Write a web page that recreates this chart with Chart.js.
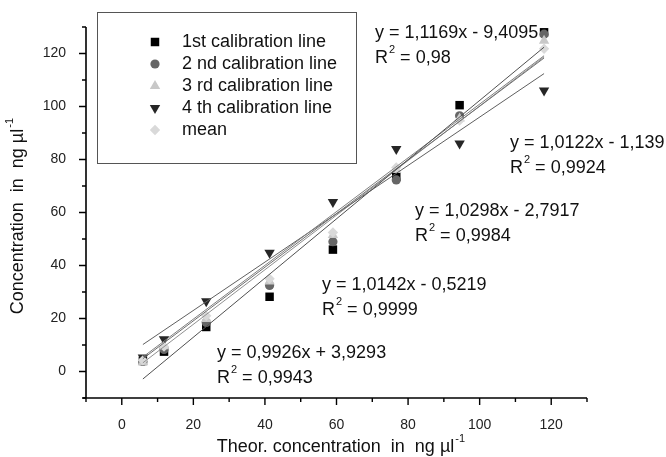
<!DOCTYPE html>
<html>
<head>
<meta charset="utf-8">
<script src="https://cdn.jsdelivr.net/npm/chart.js"></script>
<style>
  html, body { margin: 0; padding: 0; background: #fff; }
</style>
</head>
<body>
<canvas id="chart" width="666" height="457"></canvas>
<script>
// theoretical concentrations (x) and measured values per calibration line
const theorConc = [5.9, 11.8, 23.6, 41.3, 59, 76.7, 94.4, 118];
const cal1 = [4.0, 7.5, 16.8, 28.2, 46.0, 73.5, 100.5, 128.0];
const cal2 = [3.8, 8.3, 18.5, 32.5, 49.0, 72.3, 96.5, 127.3];
const cal3 = [3.5, 9.5, 19.8, 34.0, 51.5, 76.0, 95.5, 124.8];
const cal4 = [5.3, 12.2, 26.5, 44.8, 64.0, 84.0, 86.0, 106.0];
const calMean = [4.2, 9.4, 21.0, 35.0, 52.5, 77.0, 94.7, 121.8];

const seriesNames = ['1st calibration line', '2 nd calibration line', '3 rd calibration line', '4 th calibration line', 'mean'];

// trend lines as drawn (slope, intercept)
const fitSlope = [1.1169, 1.0122, 1.0142, 0.912, 1.0298];
const fitIntercept = [-9.4095, -1.139, -0.5219, 4.8, -2.7917];

const eqLabels = ['y = 1,1169x - 9,4095', 'y = 1,0122x - 1,139', 'y = 1,0298x - 2,7917', 'y = 1,0142x - 0,5219', 'y = 0,9926x + 3,9293'];
const r2Labels = [' = 0,98', ' = 0,9924', ' = 0,9984', ' = 0,9999', ' = 0,9943'];
const eqPos = [[375, 33], [510, 143], [415, 211], [322, 285], [217, 353]];

const FONT = '"Liberation Sans", Arial, sans-serif';

const markers = [
  { style: 'rect', color: '#000000', radius: 6, rotation: 0 },
  { style: 'circle', color: '#666666', radius: 4.6, rotation: 0 },
  { style: 'triangle', color: '#c8c8c8', radius: 6, rotation: 0 },
  { style: 'triangle', color: '#262626', radius: 6, rotation: 180 },
  { style: 'rectRot', color: '#d9d9d9', radius: 5.2, rotation: 0 }
];
const fitColors = ['#505050', '#707070', '#808080', '#606060', '#909090'];

const allSeries = [cal1, cal2, cal3, cal4, calMean];

const pointSets = allSeries.map((vals, i) => ({
  label: seriesNames[i],
  data: theorConc.map((x, j) => ({ x: x, y: vals[j] })),
  pointStyle: markers[i].style,
  pointRotation: markers[i].rotation,
  pointRadius: markers[i].radius,
  pointBackgroundColor: markers[i].color,
  pointBorderColor: markers[i].color,
  pointBorderWidth: 0,
  showLine: false,
  order: 10 - i
}));

const xFirst = theorConc[0];
const xLast = theorConc[theorConc.length - 1];
const fitSets = fitSlope.map((s, i) => ({
  label: 'fit ' + (i + 1),
  data: [
    { x: xFirst, y: s * xFirst + fitIntercept[i] },
    { x: xLast, y: s * xLast + fitIntercept[i] }
  ],
  showLine: true,
  borderColor: fitColors[i],
  borderWidth: 1,
  pointRadius: 0,
  order: 0
}));

function textWithSup(ctx, base, sup, x, y, size) {
  ctx.font = size + 'px ' + FONT;
  ctx.fillText(base, x, y);
  const w = ctx.measureText(base).width;
  ctx.font = Math.round(size * 0.6) + 'px ' + FONT;
  ctx.fillText(sup, x + w + 1, y - size * 0.42);
  return w + 1 + ctx.measureText(sup).width;
}

function drawMarker(ctx, m, x, y) {
  ctx.save();
  ctx.fillStyle = m.color;
  ctx.strokeStyle = m.color;
  if (Chart.helpers && Chart.helpers.drawPoint) {
    Chart.helpers.drawPoint(ctx, { pointStyle: m.style, radius: m.radius, rotation: m.rotation, borderWidth: 0 }, x, y);
  }
  ctx.restore();
}

const decorPlugin = {
  id: 'decor',
  beforeDraw(chart) {
    const ctx = chart.ctx;
    ctx.save();
    ctx.fillStyle = '#fff';
    ctx.fillRect(0, 0, chart.width, chart.height);
    ctx.restore();
  },
  afterDraw(chart) {
    const ctx = chart.ctx;
    const xs = chart.scales.x, ys = chart.scales.y;
    const area = chart.chartArea;
    ctx.save();

    // axes lines
    ctx.strokeStyle = '#000';
    ctx.lineWidth = 1.6;
    ctx.beginPath();
    ctx.moveTo(area.left - 3, area.bottom);
    ctx.lineTo(area.right, area.bottom);
    ctx.moveTo(area.left, area.bottom);
    ctx.lineTo(area.left, area.top);
    ctx.stroke();

    // major / minor ticks
    ctx.lineWidth = 1.4;
    ctx.beginPath();
    xs.ticks.forEach(t => {
      const px = xs.getPixelForValue(t.value);
      const len = t.value % 20 === 0 ? 7 : 4;
      ctx.moveTo(px, area.bottom);
      ctx.lineTo(px, area.bottom + len);
    });
    ys.ticks.forEach(t => {
      const py = ys.getPixelForValue(t.value);
      const len = t.value % 20 === 0 ? 7 : 4;
      ctx.moveTo(area.left, py);
      ctx.lineTo(area.left - len, py);
    });
    ctx.stroke();

    // legend box
    ctx.strokeStyle = '#555';
    ctx.lineWidth = 1;
    ctx.strokeRect(97.5, 12.5, 259, 151);
    ctx.textBaseline = 'middle';
    ctx.textAlign = 'left';
    seriesNames.forEach((name, i) => {
      const y = 42 + i * 22;
      drawMarker(ctx, markers[i], 155, y);
      ctx.fillStyle = '#111';
      ctx.font = '18px ' + FONT;
      ctx.fillText(name, 182, y);
    });

    // equations
    ctx.fillStyle = '#111';
    ctx.textBaseline = 'middle';
    eqLabels.forEach((eq, i) => {
      const [x, y] = eqPos[i];
      ctx.font = '18px ' + FONT;
      ctx.fillText(eq, x, y);
      const w = textWithSup(ctx, 'R', '2', x, y + 25, 18);
      ctx.font = '18px ' + FONT;
      ctx.fillText(r2Labels[i], x + w, y + 25);
    });

    // axis titles
    ctx.textBaseline = 'middle';
    ctx.font = '18px ' + FONT;
    const xt = 'Theor. concentration  in  ng µl';
    const xw = ctx.measureText(xt).width + 9;
    textWithSup(ctx, xt, '-1', 340 - xw / 2, 447, 18);

    ctx.translate(18, 217);
    ctx.rotate(-Math.PI / 2);
    ctx.font = '18px ' + FONT;
    const yt = 'Concentration  in  ng µl';
    const yw = ctx.measureText(yt).width + 9;
    textWithSup(ctx, yt, '-1', -yw / 2, 0, 18);
    ctx.restore();
  }
};

const tickLabel = v => (v % 20 === 0 ? String(v) : '');

const config = {
  type: 'scatter',
  data: { datasets: [...pointSets, ...fitSets] },
  options: {
    responsive: false,
    animation: false,
    layout: { padding: { top: 27, right: 79, left: 0, bottom: 0 } },
    plugins: {
      legend: { display: false },
      tooltip: { enabled: false }
    },
    scales: {
      x: {
        type: 'linear',
        min: -10,
        max: 130,
        afterFit: s => { s.height = 59; },
        grid: { display: false },
        border: { display: false },
        ticks: {
          stepSize: 10,
          autoSkip: false,
          maxRotation: 0,
          padding: 11,
          color: '#222',
          font: { family: FONT, size: 14 },
          callback: tickLabel
        }
      },
      y: {
        type: 'linear',
        min: -10,
        max: 130,
        afterFit: s => { s.width = 86; },
        grid: { display: false },
        border: { display: false },
        ticks: {
          stepSize: 10,
          autoSkip: false,
          padding: 12,
          color: '#222',
          font: { family: FONT, size: 14 },
          callback: tickLabel
        }
      }
    }
  },
  plugins: [decorPlugin]
};

const ctx = document.getElementById('chart').getContext('2d');
new Chart(ctx, config);
</script>
</body>
</html>
